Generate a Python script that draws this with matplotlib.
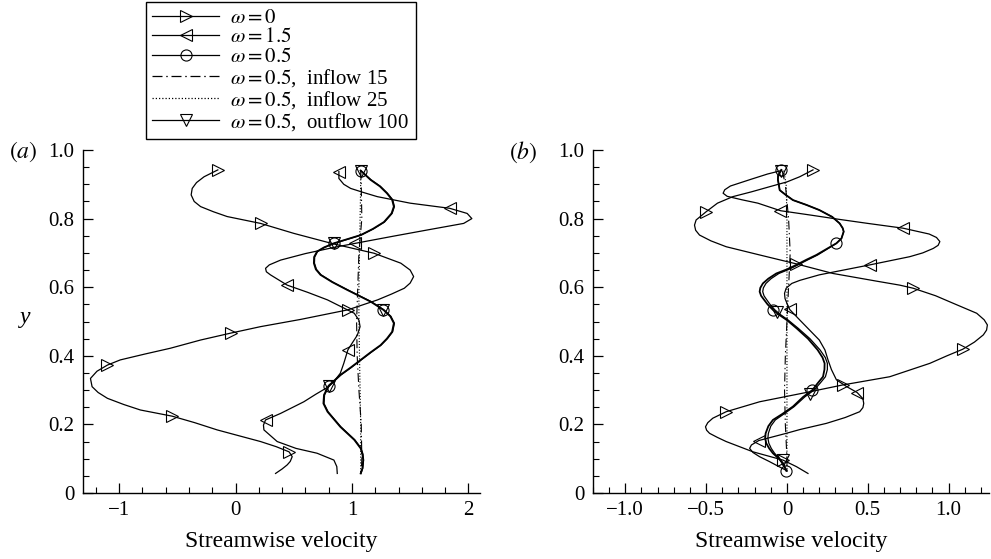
import numpy as np
import matplotlib
matplotlib.use('Agg')
import matplotlib.pyplot as plt
from matplotlib.lines import Line2D

plt.rcParams['font.family'] = ['Liberation Serif', 'DejaVu Serif']
plt.rcParams['mathtext.fontset'] = 'stix'

# ---------------- panel (a) ----------------
# omega = 0
a_w0_y = [0.942, 0.922, 0.905, 0.888, 0.869, 0.850, 0.835, 0.820, 0.806, 0.786, 0.757, 0.726,
          0.699, 0.670, 0.650, 0.631, 0.612, 0.597, 0.580, 0.563, 0.534, 0.506, 0.485, 0.466,
          0.446, 0.422, 0.405, 0.388, 0.373, 0.355, 0.334, 0.310, 0.293, 0.276, 0.258, 0.242,
          0.224, 0.205, 0.184, 0.165, 0.150, 0.135, 0.120, 0.106, 0.092, 0.082, 0.070, 0.057]
a_w0_x = [-0.152, -0.27, -0.335, -0.372, -0.381, -0.355, -0.30, -0.19, -0.072, 0.215, 0.50, 0.845,
          1.19, 1.42, 1.50, 1.53, 1.50, 1.45, 1.34, 1.22, 0.965, 0.558, 0.215, -0.043,
          -0.30, -0.56, -0.78, -0.99, -1.10, -1.19, -1.246, -1.232, -1.18, -1.10, -0.96, -0.817,
          -0.544, -0.35, -0.158, 0.05, 0.215, 0.35, 0.46, 0.487, 0.47, 0.444, 0.40, 0.344]
a_w0_my = [0.942, 0.786, 0.699, 0.534, 0.466, 0.373, 0.224, 0.120]
a_w0_mx = [-0.152, 0.215, 1.19, 0.965, -0.043, -1.10, -0.544, 0.46]

# omega = 1.5
a_w15_y = [0.937, 0.917, 0.900, 0.888, 0.876, 0.864, 0.845, 0.830, 0.815, 0.800, 0.786, 0.767,
           0.749, 0.728, 0.716, 0.698, 0.679, 0.665, 0.655, 0.645, 0.636, 0.606, 0.585, 0.563,
           0.524, 0.504, 0.485, 0.460, 0.436, 0.417, 0.378, 0.349, 0.325, 0.310, 0.288, 0.266,
           0.232, 0.213, 0.198, 0.184, 0.150, 0.130, 0.116, 0.096, 0.077, 0.057]
a_w15_x = [0.888, 0.888, 0.93, 0.989, 1.10, 1.218, 1.50, 1.84, 1.99, 2.03, 1.96, 1.65,
           1.36, 1.03, 0.845, 0.60, 0.387, 0.29, 0.258, 0.265, 0.30, 0.444, 0.62, 0.79,
           1.02, 1.06, 1.07, 1.046, 1.0, 0.965, 0.93, 0.90, 0.845, 0.80, 0.69, 0.587,
           0.387, 0.258, 0.24, 0.244, 0.358, 0.52, 0.70, 0.845, 0.87, 0.874]
a_w15_my = [0.937, 0.830, 0.728, 0.606, 0.417, 0.213]
a_w15_mx = [0.888, 1.84, 1.03, 0.444, 0.965, 0.258]

# omega = 0.5
a_w05_y = [0.940, 0.913, 0.894, 0.874, 0.855, 0.835, 0.815, 0.790, 0.770, 0.752, 0.740, 0.728,
           0.716, 0.704, 0.688, 0.670, 0.652, 0.636, 0.615, 0.592, 0.575, 0.558, 0.534, 0.515,
           0.495, 0.470, 0.450, 0.431, 0.410, 0.388, 0.366, 0.344, 0.325, 0.313, 0.286, 0.261,
           0.237, 0.215, 0.193, 0.174, 0.155, 0.130, 0.113, 0.096, 0.072, 0.057]
a_w05_x = [1.075, 1.16, 1.24, 1.30, 1.345, 1.36, 1.34, 1.275, 1.18, 1.075, 0.96, 0.845,
           0.76, 0.70, 0.675, 0.673, 0.69, 0.73, 0.83, 0.96, 1.06, 1.16, 1.27, 1.33,
           1.36, 1.345, 1.30, 1.246, 1.16, 1.075, 0.99, 0.90, 0.84, 0.80, 0.76, 0.755,
           0.79, 0.845, 0.90, 0.96, 1.02, 1.075, 1.09, 1.097, 1.09, 1.075]
a_w05_my = [0.940, 0.728, 0.534, 0.313]
a_w05_mx = [1.075, 0.845, 1.27, 0.80]

# omega = 0.5, outflow 100 (lies on top of omega = 0.5)
a_out_y = a_w05_y
a_out_x = [1.075, 1.165, 1.245, 1.305, 1.35, 1.365, 1.345, 1.28, 1.185, 1.08, 0.965, 0.85,
           0.765, 0.705, 0.68, 0.678, 0.695, 0.735, 0.835, 0.965, 1.065, 1.165, 1.275, 1.335,
           1.365, 1.35, 1.305, 1.25, 1.165, 1.08, 0.995, 0.905, 0.845, 0.805, 0.765, 0.76,
           0.795, 0.85, 0.905, 0.965, 1.025, 1.08, 1.095, 1.10, 1.093, 1.078]
a_out_my = [0.940, 0.728, 0.534, 0.313]
a_out_mx = [1.075, 0.845, 1.27, 0.80]

# omega = 0.5, inflow 15 / inflow 25
a_in_y = [0.940, 0.900, 0.800, 0.700, 0.600, 0.500, 0.400, 0.300, 0.200, 0.100, 0.057]
a_in15_x = [1.075, 1.08, 1.085, 1.06, 1.05, 1.04, 1.045, 1.06, 1.08, 1.085, 1.08]
a_in25_x = [1.075, 1.075, 1.07, 1.065, 1.06, 1.06, 1.065, 1.07, 1.075, 1.075, 1.075]

# ---------------- panel (b) ----------------
b_w0_y = [0.942, 0.922, 0.907, 0.893, 0.878, 0.864, 0.845, 0.820, 0.796, 0.781, 0.766, 0.752,
          0.735, 0.718, 0.694, 0.668, 0.640, 0.618, 0.606, 0.597, 0.575, 0.553, 0.524, 0.505,
          0.490, 0.475, 0.461, 0.440, 0.419, 0.400, 0.378, 0.339, 0.315, 0.295, 0.280, 0.266,
          0.237, 0.218, 0.205, 0.193, 0.183, 0.174, 0.162, 0.150, 0.120, 0.096, 0.077, 0.057]
b_w0_x = [0.161, 0.079, 0.0, -0.107, -0.22, -0.335, -0.43, -0.50, -0.562, -0.572, -0.565, -0.541,
          -0.47, -0.376, -0.169, 0.058, 0.285, 0.55, 0.698, 0.781, 0.92, 1.029, 1.174, 1.22,
          1.24, 1.235, 1.215, 1.16, 1.087, 0.99, 0.884, 0.636, 0.345, 0.14, -0.02, -0.169,
          -0.376, -0.459, -0.49, -0.504, -0.497, -0.479, -0.43, -0.376, -0.21, -0.025, 0.058, 0.13]
b_w0_my = [0.942, 0.820, 0.668, 0.597, 0.419, 0.315, 0.237, 0.096]
b_w0_mx = [0.161, -0.50, 0.058, 0.781, 1.087, 0.345, -0.376, -0.025]

b_w15_y = [0.940, 0.930, 0.915, 0.895, 0.884, 0.874, 0.865, 0.855, 0.845, 0.823, 0.810, 0.798,
           0.786, 0.772, 0.755, 0.745, 0.733, 0.722, 0.713, 0.700, 0.689, 0.665, 0.650, 0.636,
           0.620, 0.611, 0.597, 0.582, 0.567, 0.553, 0.535, 0.504, 0.475, 0.446, 0.417, 0.388,
           0.360, 0.330, 0.310, 0.293, 0.275, 0.261, 0.249, 0.237, 0.220, 0.203, 0.185, 0.174,
           0.153, 0.140, 0.130, 0.118, 0.106, 0.092, 0.077, 0.065]
b_w15_x = [-0.035, -0.12, -0.22, -0.35, -0.385, -0.395, -0.37, -0.28, -0.18, -0.04, 0.15, 0.32,
           0.50, 0.719, 0.88, 0.925, 0.946, 0.935, 0.905, 0.84, 0.76, 0.512, 0.35, 0.20,
           0.08, 0.03, -0.005, -0.015, -0.012, 0.0, 0.017, 0.08, 0.14, 0.20, 0.235, 0.254,
           0.275, 0.306, 0.37, 0.434, 0.47, 0.475, 0.47, 0.45, 0.36, 0.244, 0.08, -0.004,
           -0.174, -0.22, -0.231, -0.21, -0.17, -0.11, -0.05, 0.0]
b_w15_my = [0.823, 0.772, 0.665, 0.535, 0.293, 0.153]
b_w15_mx = [-0.04, 0.719, 0.512, 0.017, 0.434, -0.174]

b_w05_y = [0.942, 0.925, 0.913, 0.898, 0.883, 0.870, 0.854, 0.840, 0.825, 0.805, 0.786, 0.772,
           0.762, 0.742, 0.728, 0.710, 0.694, 0.680, 0.665, 0.652, 0.640, 0.625, 0.611, 0.598,
           0.587, 0.575, 0.568, 0.550, 0.534, 0.520, 0.504, 0.480, 0.450, 0.417, 0.395, 0.378,
           0.360, 0.339, 0.320, 0.300, 0.280, 0.252, 0.230, 0.213, 0.195, 0.174, 0.160, 0.145,
           0.130, 0.116, 0.100, 0.086, 0.065]
b_w05_x = [-0.035, -0.055, -0.056, -0.05, -0.045, -0.01, 0.037, 0.12, 0.20, 0.28, 0.326, 0.345,
           0.351, 0.337, 0.306, 0.24, 0.182, 0.12, 0.058, 0.0, -0.066, -0.115, -0.149, -0.165,
           -0.169, -0.16, -0.149, -0.12, -0.087, -0.05, 0.0, 0.06, 0.13, 0.19, 0.22, 0.233,
           0.232, 0.223, 0.19, 0.157, 0.10, 0.037, -0.03, -0.087, -0.115, -0.132, -0.135, -0.128,
           -0.11, -0.087, -0.05, -0.025, -0.004]
b_w05_my = [0.942, 0.728, 0.534, 0.300, 0.065]
b_w05_mx = [-0.035, 0.306, -0.087, 0.157, -0.004]

b_out_y = b_w05_y
b_out_x = [-0.035, -0.055, -0.056, -0.05, -0.045, -0.01, 0.037, 0.12, 0.20, 0.28, 0.326, 0.345,
           0.351, 0.337, 0.306, 0.245, 0.19, 0.13, 0.068, 0.012, -0.05, -0.098, -0.13, -0.146,
           -0.15, -0.142, -0.132, -0.105, -0.075, -0.04, 0.008, 0.07, 0.142, 0.205, 0.237, 0.25,
           0.25, 0.238, 0.205, 0.167, 0.11, 0.045, -0.02, -0.072, -0.1, -0.115, -0.118, -0.112,
           -0.097, -0.077, -0.045, -0.022, -0.004]
b_out_my = [0.940, 0.527, 0.289, 0.096]
b_out_mx = [-0.035, -0.06, 0.145, -0.025]

b_in_y = [0.940, 0.900, 0.800, 0.700, 0.600, 0.500, 0.400, 0.300, 0.200, 0.100, 0.060]
b_in15_x = [-0.03, -0.01, 0.01, 0.02, 0.01, 0.0, -0.01, -0.015, -0.01, 0.0, 0.0]
b_in25_x = [-0.02, -0.005, 0.0, 0.0, 0.0, 0.0, 0.0, 0.0, 0.0, 0.0, 0.0]

a_xticks = [-1, 0, 1, 2]
a_xticklabels = ['\u22121', '0', '1', '2']
b_xticks = [-1.0, -0.5, 0.0, 0.5, 1.0]
b_xticklabels = ['\u22121.0', '\u22120.5', '0', '0.5', '1.0']
yticks = [0, 0.2, 0.4, 0.6, 0.8, 1.0]
yticklabels = ['0', '0.2', '0.4', '0.6', '0.8', '1.0']

legend_labels = [r'$\omega = 0$', r'$\omega = 1.5$', r'$\omega = 0.5$',
                 r'$\omega = 0.5$,  inflow 15', r'$\omega = 0.5$,  inflow 25',
                 r'$\omega = 0.5$,  outflow 100']

DASHDOT = (0, (8, 3, 1.2, 3))
DOT = (0, (1, 1.6))
ms = 8
mk = dict(mfc='none', mec='k', mew=0.8, ms=ms, ls='none')


def draw_panel(ax, d):
    ax.plot(d['w0'][0], d['w0'][1], color='k', lw=0.9)
    ax.plot(d['w0'][2], d['w0'][3], marker='>', **mk)
    ax.plot(d['w15'][0], d['w15'][1], color='k', lw=0.9)
    ax.plot(d['w15'][2], d['w15'][3], marker='<', **mk)
    ax.plot(d['in15'][0], d['in15'][1], color='k', lw=0.8, ls=DASHDOT)
    ax.plot(d['in25'][0], d['in25'][1], color='k', lw=0.8, ls=DOT)
    ax.plot(d['out'][0], d['out'][1], color='k', lw=0.9)
    ax.plot(d['out'][2], d['out'][3], marker='v', **mk)
    ax.plot(d['w05'][0], d['w05'][1], color='k', lw=1.3)
    ax.plot(d['w05'][2], d['w05'][3], marker='o', **mk)


def style_axes(ax, xlim, xticks, xticklabels, xminor):
    ax.set_xlim(*xlim)
    ax.set_ylim(0, 1.0)
    for s in ['top', 'right']:
        ax.spines[s].set_visible(False)
    for s in ['left', 'bottom']:
        ax.spines[s].set_linewidth(1.0)
    ax.set_xticks(xticks)
    ax.set_xticklabels(xticklabels)
    ax.set_yticks(yticks)
    ax.set_yticklabels(yticklabels)
    ax.xaxis.set_minor_locator(matplotlib.ticker.MultipleLocator(xminor))
    ax.yaxis.set_minor_locator(matplotlib.ticker.MultipleLocator(0.05))
    ax.tick_params(which='major', direction='in', length=7, width=0.9, labelsize=15, pad=6)
    ax.tick_params(which='minor', direction='in', length=4, width=0.8)
    ax.set_xlabel('Streamwise velocity', fontsize=17, labelpad=8)


fig = plt.figure(figsize=(9.91, 5.59), dpi=100)
ax_a = fig.add_axes([83 / 991, 66 / 559, 397 / 991, 343 / 559])
ax_b = fig.add_axes([593 / 991, 66 / 559, 396 / 991, 343 / 559])

draw_panel(ax_a, {
    'w0': (a_w0_x, a_w0_y, a_w0_mx, a_w0_my),
    'w15': (a_w15_x, a_w15_y, a_w15_mx, a_w15_my),
    'w05': (a_w05_x, a_w05_y, a_w05_mx, a_w05_my),
    'out': (a_out_x, a_out_y, a_out_mx, a_out_my),
    'in15': (a_in15_x, a_in_y),
    'in25': (a_in25_x, a_in_y),
})
draw_panel(ax_b, {
    'w0': (b_w0_x, b_w0_y, b_w0_mx, b_w0_my),
    'w15': (b_w15_x, b_w15_y, b_w15_mx, b_w15_my),
    'w05': (b_w05_x, b_w05_y, b_w05_mx, b_w05_my),
    'out': (b_out_x, b_out_y, b_out_mx, b_out_my),
    'in15': (b_in15_x, b_in_y),
    'in25': (b_in25_x, b_in_y),
})

style_axes(ax_a, (-1.31, 2.1), a_xticks, a_xticklabels, 0.2)
style_axes(ax_b, (-1.2, 1.25), b_xticks, b_xticklabels, 0.1)

ax_a.set_ylabel('y', fontsize=17, style='italic', rotation=0)
ax_a.yaxis.set_label_coords(-0.146, 0.48)

fig.text(9 / 991, 1 - 152 / 559, r'$(a)$', fontsize=17, va='center')
fig.text(509 / 991, 1 - 152 / 559, r'$(b)$', fontsize=17, va='center')

handles = [
    Line2D([], [], color='k', lw=0.9, marker='>', mfc='none', mec='k', mew=0.8, ms=ms),
    Line2D([], [], color='k', lw=0.9, marker='<', mfc='none', mec='k', mew=0.8, ms=ms),
    Line2D([], [], color='k', lw=0.9, marker='o', mfc='none', mec='k', mew=0.8, ms=ms),
    Line2D([], [], color='k', lw=0.9, ls=DASHDOT),
    Line2D([], [], color='k', lw=0.9, ls=DOT),
    Line2D([], [], color='k', lw=0.9, marker='v', mfc='none', mec='k', mew=0.8, ms=ms),
]
leg = fig.legend(handles, legend_labels, loc='upper left',
                 bbox_to_anchor=(146 / 991, 1 - 2 / 559), borderaxespad=0, fontsize=15,
                 handlelength=3.2, handletextpad=0.55, labelspacing=0.0,
                 borderpad=0.3, fancybox=False, framealpha=1, numpoints=1)
leg.get_frame().set_edgecolor('k')
leg.get_frame().set_linewidth(1.0)

fig.savefig('out.png', dpi=100)
